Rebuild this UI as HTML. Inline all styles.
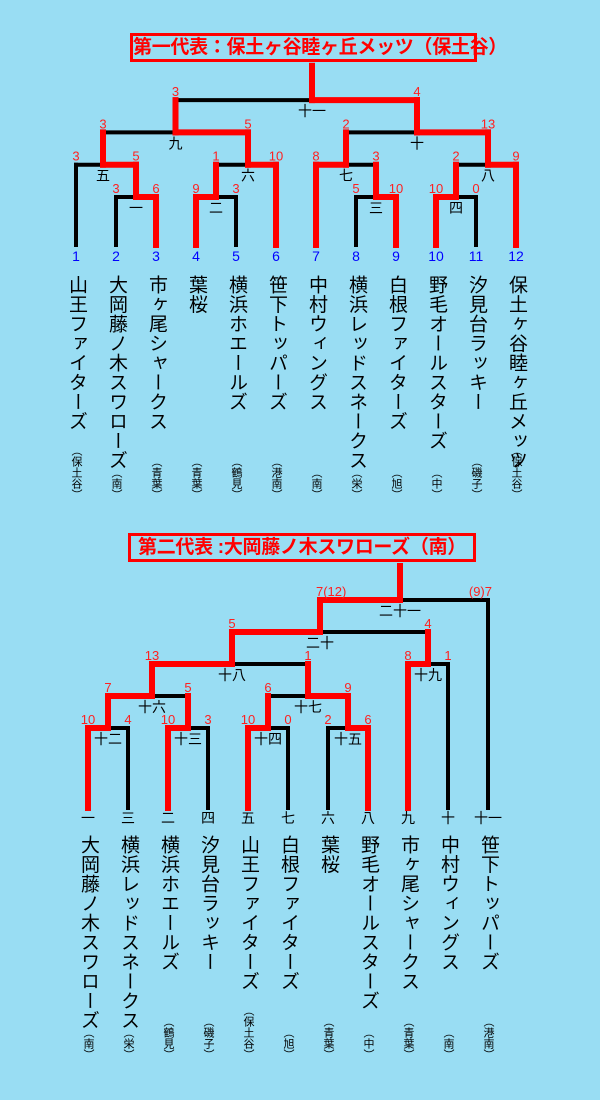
<!DOCTYPE html>
<html><head><meta charset="utf-8">
<style>
html,body{margin:0;padding:0}
body{width:600px;height:1100px;background:#99ddf3;position:relative;overflow:hidden;font-family:"Liberation Sans","Noto Sans CJK JP",sans-serif}
.title{position:absolute;border:3px solid #ff0000;box-sizing:border-box;color:#ff0000;font-weight:bold;font-size:19px;line-height:23px;text-align:center;white-space:nowrap;letter-spacing:-0.3px}
.nm{position:absolute;writing-mode:vertical-rl;font-size:19px;line-height:20px;letter-spacing:0.5px;transform:translateX(-50%);color:#000;white-space:nowrap}
.rg{position:absolute;writing-mode:vertical-rl;font-size:11px;line-height:12px;transform:translateX(-50%);color:#000;white-space:nowrap}
svg{position:absolute;left:0;top:0}
</style></head>
<body>
<div class="title" style="left:130px;top:33px;width:347px;height:29px">第一代表：保土ヶ谷睦ヶ丘メッツ（保土谷）</div>
<div class="title" style="left:128px;top:533px;width:348px;height:29px">第二代表 :大岡藤ノ木スワローズ（南）</div>
<svg id="chart" width="600" height="1100"></svg>
<script>
// ---- Top bracket data ----
const topSeeds=['1','2','3','4','5','6','7','8','9','10','11','12'];
const topTeams=['山王ファイターズ','大岡藤ノ木スワローズ','市ヶ尾シャークス','葉桜','横浜ホエールズ','笹下トッパーズ','中村ウィングス','横浜レッドスネークス','白根ファイターズ','野毛オールスターズ','汐見台ラッキー','保土ヶ谷睦ヶ丘メッツ'];
const topRegions=['（保土谷）','（南）','（青葉）','（青葉）','（鶴見）','（港南）','（南）','（栄）','（旭）','（中）','（磯子）','（保土谷）'];
const topMatches=['一','二','三','四','五','六','七','八','九','十','十一'];
const topLeft=['L1','L3','L7','L9','L0','二','L6','四','五','七','九'];
const topRight=['L2','L4','L8','L10','一','L5','三','L11','六','八','十'];
const topLeftScores=['3','9','5','10','3','1','8','2','3','2','3'];
const topRightScores=['6','3','10','0','5','10','3','9','5','13','4'];
const topRounds=[0,0,0,0,1,1,1,1,2,2,3];
// ---- Bottom bracket data ----
const botSeeds=['一','三','二','四','五','七','六','八','九','十','十一'];
const botTeams=['大岡藤ノ木スワローズ','横浜レッドスネークス','横浜ホエールズ','汐見台ラッキー','山王ファイターズ','白根ファイターズ','葉桜','野毛オールスターズ','市ヶ尾シャークス','中村ウィングス','笹下トッパーズ'];
const botRegions=['（南）','（栄）','（鶴見）','（磯子）','（保土谷）','（旭）','（青葉）','（中）','（青葉）','（南）','（港南）'];
const botMatches=['十二','十三','十四','十五','十六','十七','十八','十九','二十','二十一'];
const botLeft=['L0','L2','L4','L6','十二','十四','十六','L8','十八','二十'];
const botRight=['L1','L3','L5','L7','十三','十五','十七','L9','十九','L10'];
const botLeftScores=['10','10','10','2','7','6','13','8','5','7(12)'];
const botRightScores=['4','3','0','6','5','9','1','1','4','(9)7'];
const botRounds=[0,0,0,0,1,1,2,2,3,4];

const NS='http://www.w3.org/2000/svg';
const svg=document.getElementById('chart');
const blackLayer=document.createElementNS(NS,'g');
const redLayer=document.createElementNS(NS,'g');
const textLayer=document.createElementNS(NS,'g');
svg.appendChild(blackLayer);svg.appendChild(redLayer);svg.appendChild(textLayer);

function scoreVal(s){const m=s.replace(/\(.*?\)/,'');const t=(s.match(/\((\d+)\)/)||[0,0])[1];return parseFloat(m)*100+parseFloat(t);}
function line(layer,x1,y1,x2,y2,red,name){
  const l=document.createElementNS(NS,'line');
  l.setAttribute('x1',x1);l.setAttribute('y1',y1);l.setAttribute('x2',x2);l.setAttribute('y2',y2);
  l.setAttribute('stroke',red?'#ff0000':'#000');l.setAttribute('stroke-width',red?6:4);l.setAttribute('stroke-linecap','square');
  
  
  layer.appendChild(l);
}
function text(x,y,str,size,color,anchor,name){
  const t=document.createElementNS(NS,'text');
  t.setAttribute('x',x);t.setAttribute('y',y);t.setAttribute('font-size',size);t.setAttribute('fill',color);
  t.setAttribute('text-anchor',anchor);
  t.setAttribute('font-family','"Liberation Sans","Noto Sans CJK JP",sans-serif');
  t.textContent=str;
  
  
  textLayer.appendChild(t);
}
function htmlText(cls,str,left,top,bottom,name){
  const d=document.createElement('div');d.className=cls;d.textContent=str;
  d.style.left=left+'px';
  if(top!=null)d.style.top=top+'px'; else d.style.bottom=bottom+'px';
  
  
  document.body.appendChild(d);
}

function drawBracket(cfg){
  const leafX=i=>cfg.x0+i*40;
  const roundY=r=>cfg.y0-r*cfg.dy;
  const pos={};
  cfg.seeds.forEach((s,i)=>{pos['L'+i]={x:leafX(i),y:cfg.leafBottom,leaf:true};});
  cfg.matches.forEach((m,i)=>{
    const a=pos[cfg.left[i]],b=pos[cfg.right[i]];
    const y=roundY(cfg.rounds[i]);
    const leftWins=scoreVal(cfg.ls[i])>scoreVal(cfg.rs[i]);
    const stem=(cfg.stem[m]!==undefined)?cfg.stem[m]:(a.x+b.x)/2;
    line(blackLayer,a.x,y,b.x,y,false,'match-'+m+'-bar');
    [[a,leftWins],[b,!leftWins]].forEach(([c,w],k)=>{
      const red=!c.leaf||w;
      line(red?redLayer:blackLayer,c.x,c.y,c.x,y,red,'match-'+m+(k?'-right':'-left')+'-line');
    });
    const wx=leftWins?a.x:b.x;
    line(redLayer,wx,y,stem,y,true,'match-'+m+'-winner-path');
    const ls=cfg.ls[i],rs=cfg.rs[i];
    if(ls.length>2) text(a.x-4,y-4,ls,13,'#ff2020','start','score-'+m+'-left'); else text(a.x,y-4,ls,13,'#ff2020','middle','score-'+m+'-left');
    if(rs.length>2) text(b.x+4,y-4,rs,13,'#ff2020','end','score-'+m+'-right'); else text(b.x,y-4,rs,13,'#ff2020','middle','score-'+m+'-right');
    text(stem,y+16,m,14,'#000','middle','match-label-'+m);
    pos[m]={x:stem,y:y,leaf:false};
    if(i===cfg.matches.length-1) line(redLayer,stem,y,stem,y-cfg.dy-2,true,'champion-stem');
  });
  cfg.seeds.forEach((s,i)=>{
    text(leafX(i),cfg.seedY,s,cfg.seedSize,cfg.seedColor,'middle','seed-'+s);
    htmlText('nm',cfg.teams[i],leafX(i),cfg.nameTop,null,'team-name');
    htmlText('rg',cfg.regions[i],leafX(i),null,cfg.regionBottom,'team-region');
  });
}

drawBracket({seeds:topSeeds,teams:topTeams,regions:topRegions,matches:topMatches,left:topLeft,right:topRight,ls:topLeftScores,rs:topRightScores,rounds:topRounds,
  x0:76,y0:197,dy:32.3,leafBottom:245,seedY:261,seedSize:14,seedColor:'#0000ff',nameTop:275,regionBottom:600,
  stem:{'五':103,'六':248,'八':488,'十一':312}});
drawBracket({seeds:botSeeds,teams:botTeams,regions:botRegions,matches:botMatches,left:botLeft,right:botRight,ls:botLeftScores,rs:botRightScores,rounds:botRounds,
  x0:88,y0:728,dy:32,leafBottom:808,seedY:823,seedSize:14,seedColor:'#000',nameTop:835,regionBottom:40,
  stem:{'十六':152,'十八':232,'二十':320,'二十一':400}});
</script>
</body></html>
